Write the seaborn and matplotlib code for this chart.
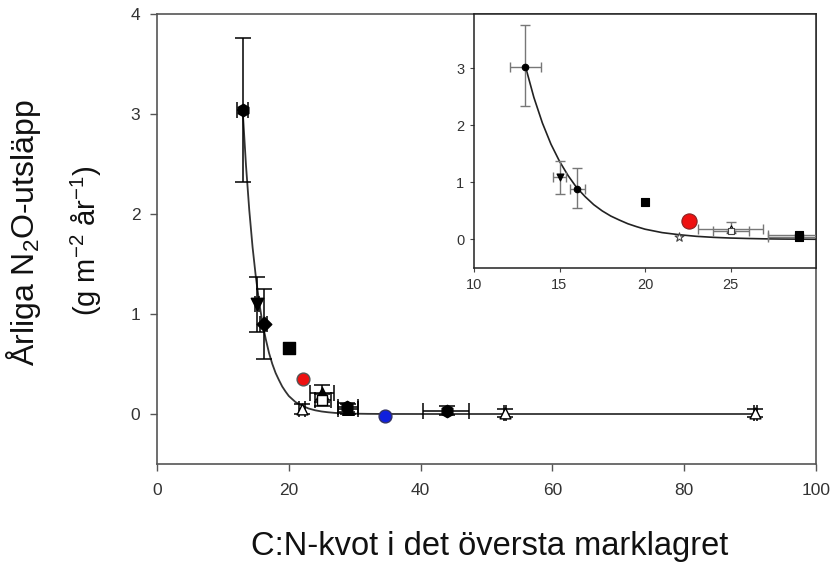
import matplotlib
matplotlib.use("Agg")
import matplotlib.pyplot as plt
import seaborn as sns
import pandas as pd

sns.set_theme(style="white")
plt.rcParams['font.family'] = ['Liberation Sans', 'DejaVu Sans']
plt.rcParams['mathtext.fontset'] = 'custom'
plt.rcParams['mathtext.rm'] = 'Liberation Sans'
plt.rcParams['mathtext.it'] = 'Liberation Sans'

# ---- data ----
# main chart points
cn      = [13.0, 15.2, 16.2, 20.0, 22.2, 22.0, 25.0, 25.0, 28.9, 29.0, 34.6, 44.0, 52.8, 90.8]
n2o     = [3.04, 1.10, 0.90, 0.66, 0.35, 0.05, 0.21, 0.14, 0.07, 0.05, -0.02, 0.03, 0.01, 0.01]
cn_lo   = [12.2, 14.9, 15.7, 20.0, 22.2, 21.6, 23.2, 24.0, 27.4, 27.4, 34.6, 40.4, 52.6, 90.6]
cn_hi   = [13.8, 15.5, 16.7, 20.0, 22.2, 22.4, 26.9, 26.4, 30.5, 30.5, 34.6, 47.4, 53.0, 91.0]
n2o_lo  = [2.32, 0.82, 0.55, 0.66, 0.35, 0.00, 0.12, 0.08, 0.02, 0.00, -0.02, -0.01, -0.03, -0.03]
n2o_hi  = [3.76, 1.37, 1.25, 0.66, 0.35, 0.10, 0.29, 0.20, 0.11, 0.10, -0.02, 0.08, 0.05, 0.05]
kind    = ['hex', 'vtri', 'diam', 'sq', 'red', 'otri', 'tri', 'osq', 'hex', 'tri', 'blue', 'hex', 'otri', 'otri']

# inset points
in_cn     = [13.0, 15.0, 16.0, 20.0, 22.6, 22.0, 25.0, 25.0, 29.0, 29.0]
in_n2o    = [3.03, 1.09, 0.89, 0.65, 0.32, 0.05, 0.19, 0.14, 0.07, 0.04]
in_cn_lo  = [12.1, 14.6, 15.6, 20.0, 22.6, 22.0, 23.1, 24.0, 27.2, 27.2]
in_cn_hi  = [13.9, 15.4, 16.5, 20.0, 22.6, 22.0, 26.9, 26.1, 30.5, 30.5]
in_n2o_lo = [2.33, 0.80, 0.55, 0.65, 0.32, 0.05, 0.12, 0.14, 0.07, 0.04]
in_n2o_hi = [3.75, 1.37, 1.25, 0.65, 0.32, 0.05, 0.30, 0.14, 0.07, 0.04]
in_kind   = ['dot', 'vtri', 'dot', 'sq', 'red', 'ostar', 'tri', 'osq', 'sq', 'sq']

# fitted curve
curve_x = [13, 13.5, 14, 14.5, 15, 15.5, 16, 16.5, 17, 17.5, 18, 18.5, 19, 19.5, 20,
           21, 22, 23, 24, 25, 26, 27, 28, 30, 32, 35, 40, 91]
curve_y = [3.04, 2.49, 2.04, 1.67, 1.37, 1.12, 0.91, 0.75, 0.61, 0.50, 0.41, 0.34, 0.275,
           0.225, 0.18, 0.12, 0.083, 0.055, 0.037, 0.025, 0.017, 0.011, 0.0075, 0.0034,
           0.0015, 0.0003, 0.0, 0.0]

x_ticks = [0, 20, 40, 60, 80, 100]
y_ticks = [0, 1, 2, 3, 4]
in_x_ticks = [10, 15, 20, 25]
in_y_ticks = [0, 1, 2, 3]

# ---- style tables ----
main_style = {
    'hex':  dict(marker='h', fc='black', ec='black', s=80),
    'vtri': dict(marker='v', fc='black', ec='black', s=80),
    'diam': dict(marker='D', fc='black', ec='black', s=55),
    'sq':   dict(marker='s', fc='black', ec='black', s=75),
    'red':  dict(marker='o', fc='#ee1111', ec='#555555', s=85),
    'otri': dict(marker='^', fc='white', ec='black', s=60),
    'tri':  dict(marker='^', fc='black', ec='black', s=70),
    'osq':  dict(marker='s', fc='white', ec='black', s=45),
    'blue': dict(marker='o', fc='#1020dd', ec='#333366', s=85),
}
in_style = {
    'dot':   dict(marker='o', fc='black', ec='black', s=22),
    'vtri':  dict(marker='v', fc='black', ec='black', s=25),
    'sq':    dict(marker='s', fc='black', ec='black', s=28),
    'red':   dict(marker='o', fc='#ee1111', ec='#882222', s=120),
    'ostar': dict(marker='*', fc='white', ec='#444444', s=45),
    'tri':   dict(marker='^', fc='white', ec='black', s=28),
    'osq':   dict(marker='s', fc='white', ec='#444444', s=25),
}

fig = plt.figure(figsize=(8.31, 5.66), dpi=100)
ax = fig.add_axes([157/831, 1-464/566, (816-157)/831, (464-14)/566])

df = pd.DataFrame({'cn': cn, 'n2o': n2o, 'kind': kind})
curve = pd.DataFrame({'x': curve_x, 'y': curve_y})

sns.lineplot(data=curve, x='x', y='y', ax=ax, color='#333333', lw=1.3, zorder=2)

for x, y, xl, xh, yl, yh in zip(cn, n2o, cn_lo, cn_hi, n2o_lo, n2o_hi):
    if xh > xl or yh > yl:
        ax.errorbar(x, y, xerr=[[x-xl], [xh-x]], yerr=[[y-yl], [yh-y]], fmt='none',
                    ecolor='black', elinewidth=1.1, capsize=6, capthick=1.1, zorder=3)

for k, st in main_style.items():
    sub = df[df['kind'] == k]
    sns.scatterplot(data=sub, x='cn', y='n2o', ax=ax, marker=st['marker'], color=st['fc'],
                    edgecolor=st['ec'], s=st['s'], linewidth=1.0, zorder=4, legend=False)

ax.set_xlim(0, 100)
ax.set_ylim(-0.5, 4)
ax.set_xticks(x_ticks)
ax.set_yticks(y_ticks)
ax.set_xlabel('')
ax.set_ylabel('')
for sp in ax.spines.values():
    sp.set_visible(True)
    sp.set_color('#555555')
    sp.set_linewidth(1.2)
ax.tick_params(axis='both', which='both', direction='out', length=5, width=1,
               color='#555555', labelsize=12.5, labelcolor='#333333',
               left=True, bottom=True)
ax.tick_params(axis='x', pad=9)
ax.tick_params(axis='y', pad=7)

# inset
axi = fig.add_axes([474/831, 1-268/566, (816-474)/831, (268-14)/566])
dfi = pd.DataFrame({'cn': in_cn, 'n2o': in_n2o, 'kind': in_kind})
sns.lineplot(data=curve[curve['x'] <= 32], x='x', y='y', ax=axi, color='#222222', lw=1.2, zorder=2)
for x, y, xl, xh, yl, yh in zip(in_cn, in_n2o, in_cn_lo, in_cn_hi, in_n2o_lo, in_n2o_hi):
    if xh > xl or yh > yl:
        axi.errorbar(x, y, xerr=[[x-xl], [xh-x]], yerr=[[y-yl], [yh-y]], fmt='none',
                     ecolor='#777777', elinewidth=1.0, capsize=3.5, capthick=1.0, zorder=3)
for k, st in in_style.items():
    sub = dfi[dfi['kind'] == k]
    sns.scatterplot(data=sub, x='cn', y='n2o', ax=axi, marker=st['marker'], color=st['fc'],
                    edgecolor=st['ec'], s=st['s'], linewidth=0.8, zorder=4, legend=False)
axi.set_xlim(10, 30)
axi.set_ylim(-0.5, 3.95)
axi.set_xticks(in_x_ticks)
axi.set_yticks(in_y_ticks)
axi.set_xlabel('')
axi.set_ylabel('')
axi.set_facecolor('white')
for sp in axi.spines.values():
    sp.set_visible(True)
    sp.set_color('#222222')
    sp.set_linewidth(1.1)
axi.tick_params(axis='both', direction='out', length=3, width=0.8, color='#444444',
                labelsize=10.5, labelcolor='#333333', pad=4, left=True, bottom=True)

# labels
fig.text(24/831, 1-233/566, 'Årliga N$_2$O-utsläpp', rotation=90, ha='center', va='center',
         fontsize=23, color='#111111')
fig.text(86/831, 1-241/566, '(g m$^{-2}$ år$^{-1}$)', rotation=90, ha='center', va='center',
         fontsize=21, color='#111111')
fig.text(490/831, 1-546/566, 'C:N-kvot i det översta marklagret', ha='center', va='center',
         fontsize=23.5, color='#111111')

fig.savefig('out.png', dpi=100, facecolor='white')
